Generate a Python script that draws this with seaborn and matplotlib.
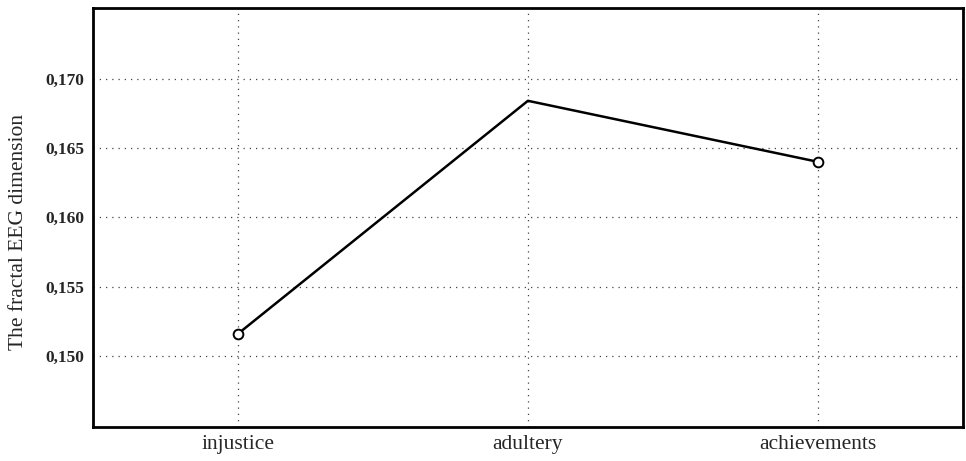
import matplotlib
matplotlib.use("Agg")
import matplotlib.pyplot as plt
import pandas as pd
import seaborn as sns

categories = ['injustice', 'adultery', 'achievements']
fractal_dim = [0.1516, 0.1684, 0.1640]
yticks = [0.150, 0.155, 0.160, 0.165, 0.170]
ytick_labels = ['0,150', '0,155', '0,160', '0,165', '0,170']

df = pd.DataFrame({'cond': categories, 'value': fractal_dim})
df['pos'] = range(len(categories))

sns.set_style('white')
plt.rcParams['font.family'] = ['Liberation Serif', 'DejaVu Serif']

fig, ax = plt.subplots(figsize=(9.66, 4.61), dpi=100)
sns.lineplot(data=df, x='pos', y='value', sort=False, color='black', linewidth=1.8,
             marker='o', markersize=7, markerfacecolor='white', markeredgecolor='black',
             markeredgewidth=1.4, markevery=[0, 2], ax=ax)

ax.set_xlim(-0.5, 2.5)
ax.set_ylim(0.1449, 0.1751)
ax.set_xticks(df['pos'])
ax.set_xticklabels(categories, fontsize=15.5)
ax.set_yticks(yticks)
ax.set_yticklabels(ytick_labels, fontsize=12.5, fontweight='bold')
ax.set_xlabel('')
ax.set_ylabel('The fractal EEG dimension', fontsize=15.5)
ax.yaxis.set_label_coords(-0.074, 0.465)
ax.grid(True, linestyle=(0, (1, 4)), color='#444444', linewidth=0.9)
ax.tick_params(direction='in', length=4, width=1.2, color='black', pad=6)
for s in ax.spines.values():
    s.set_linewidth(2)
    s.set_color('black')

fig.subplots_adjust(left=0.096, right=0.997, top=0.983, bottom=0.074)
fig.savefig('out.png', dpi=100)
